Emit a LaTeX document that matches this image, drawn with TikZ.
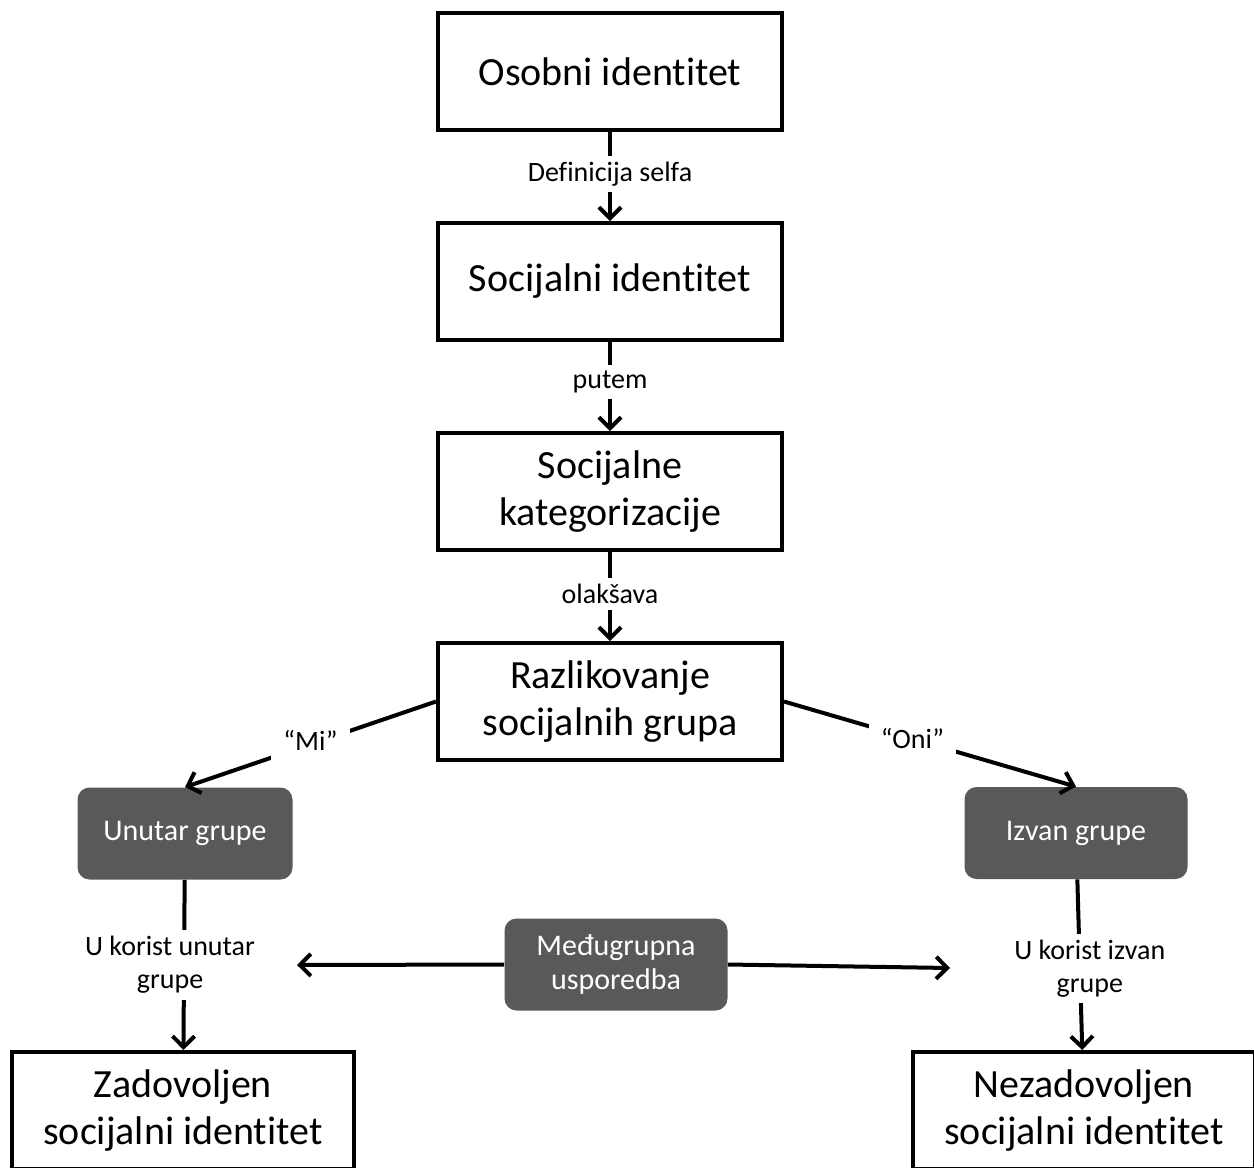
\documentclass[tikz,border=0pt]{standalone}
\usepackage{fontspec}
\setmainfont{Carlito}[Ligatures=NoCommon]
\usetikzlibrary{positioning,arrows.meta}
\definecolor{boxgray}{RGB}{89,89,89}
\tikzset{>={Straight Barb[length=5.5pt,width=11pt]}}

\begin{document}
\begin{tikzpicture}[
    x=0.5pt, y=-0.5pt,
    node distance=105pt,
    mainbox/.style={draw, line width=2pt, rectangle, align=center, minimum width=172pt, minimum height=58.5pt, inner sep=0pt, font=\fontsize{20}{23.5}\selectfont},
    graybox/.style={fill=boxgray, text=white, rounded corners=6pt, align=center, minimum width=111.5pt, minimum height=46pt, inner sep=0pt, font=\fontsize{15}{17}\selectfont},
    lbl/.style={fill=white, inner sep=3pt, align=center, font=\fontsize{14}{16.5}\selectfont},
    arr/.style={->, line width=2pt}
]
    \useasboundingbox (0,0) rectangle (1254,1168);

    % Nodes
    \node[mainbox] (Osobni) at (610,71.5) {Osobni identitet};
    \node[mainbox, below of=Osobni] (Socijalni) {Socijalni identitet};
    \node[mainbox, below of=Socijalni] (Kategorije) {Socijalne\\kategorizacije};
    \node[mainbox, below of=Kategorije] (Razlikovanje) {Razlikovanje\\socijalnih grupa};
    \node[graybox, minimum width=107.5pt] (Unutar) at (185,833.5) {Unutar grupe};
    \node[graybox] (Izvan) at (1076,833) {Izvan grupe};
    \node[graybox] (Medju) at (616,964.5) {Međugrupna\\usporedba};
    \node[mainbox, minimum width=171pt] (Zadovoljen) at (183,1110.5) {Zadovoljen\\socijalni identitet};
    \node[mainbox, minimum width=171pt] (Nezadovoljen) at (1084,1110.5) {Nezadovoljen\\socijalni identitet};
    \coordinate (MedjuL) at (297,965);
    \coordinate (MedjuR) at (950,968);

    % Arrows
    \draw[arr] (Osobni) -- node[lbl, pos=0.47] {Definicija selfa} (Socijalni);
    \draw[arr] (Socijalni) -- node[lbl, pos=0.45] {putem} (Kategorije);
    \draw[arr] (Kategorije) -- node[lbl, pos=0.47] {olakšava} (Razlikovanje);
    \draw[arr] (Razlikovanje.west) -- node[lbl, inner sep=6pt, yshift=2pt] {“Mi”} (Unutar.north);
    \draw[arr] (Razlikovanje.east) -- node[lbl, inner sep=6pt, pos=0.44] {“Oni”} (Izvan.north);
    \draw[arr] (Unutar) -- node[lbl, xshift=-7pt] {U korist unutar\\grupe} (Zadovoljen);
    \draw[arr] (Izvan) -- node[lbl, xshift=5pt, yshift=-2pt] {U korist izvan\\grupe} (Nezadovoljen);
    \draw[arr] (Medju.west) -- (MedjuL);
    \draw[arr] (Medju.east) -- (MedjuR);
\end{tikzpicture}
\end{document}
